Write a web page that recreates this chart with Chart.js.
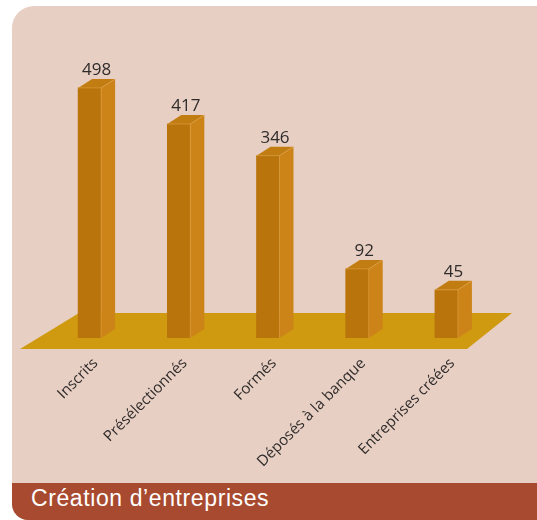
<!DOCTYPE html>
<html lang="fr">
<head>
<meta charset="utf-8">
<title>Création d’entreprises</title>
<script src="https://cdn.jsdelivr.net/npm/chart.js@4.4.1/dist/chart.umd.min.js"></script>
<style>
    html, body {
        margin: 0;
        padding: 0;
        background: #ffffff;
        width: 537px;
        height: 520px;
        overflow: hidden;
    }
    #panel {
        position: absolute;
        left: 12px;
        top: 6px;
        width: 525px;
        height: 514px;
        background: #e8cfc3;
        border-top-left-radius: 22px;
        border-bottom-left-radius: 16px;
        overflow: hidden;
    }
    #band {
        position: absolute;
        left: 0;
        top: 477px;
        width: 525px;
        height: 37px;
        background: #a84a2f;
        color: #ffffff;
        font-family: "Liberation Sans", Arial, sans-serif;
        font-size: 23px;
        letter-spacing: 0.6px;
        line-height: 31px;
        padding-left: 19px;
        box-sizing: border-box;
    }
    #chart {
        position: absolute;
        left: 0;
        top: 0;
    }
</style>
</head>
<body>
<div id="panel">
    <div id="band">Création d’entreprises</div>
</div>
<canvas id="chart" width="537" height="520"></canvas>

<script>
// Chart data
const categories = ['Inscrits', 'Présélectionnés', 'Formés', 'Déposés à la banque', 'Entreprises créées'];
const values = [498, 417, 346, 92, 45];

// Value axis range (the floor sits at the bottom of the range)
const axisMin = -63;
const axisMax = 500;

// Colours
const frontColor = '#b9740c';
const sideColor = '#cc8317';
const topColor = '#c27d12';
const floorColor = '#cf9a10';

// Depth of the 3D faces
const depthX = 14;
const depthY = -9;

// Floor under the bars
const floorPlugin = {
    id: 'floor',
    beforeDatasetsDraw(chart) {
        const { ctx, chartArea } = chart;
        const b = chartArea.bottom;
        ctx.save();
        ctx.fillStyle = floorColor;
        ctx.beginPath();
        ctx.moveTo(chartArea.left - 25, b + 11);
        ctx.lineTo(chartArea.left + 34, b - 25);
        ctx.lineTo(chartArea.right + 21, b - 25);
        ctx.lineTo(chartArea.right - 24, b + 11);
        ctx.closePath();
        ctx.fill();
        ctx.restore();
    }
};

// Side and top faces, value labels, category labels
const boxPlugin = {
    id: 'box3d',
    afterDatasetsDraw(chart) {
        const { ctx } = chart;
        const meta = chart.getDatasetMeta(0);
        ctx.save();
        meta.data.forEach((bar, i) => {
            const half = bar.width / 2;
            const l = bar.x - half;
            const r = bar.x + half;
            const t = bar.y;
            const base = bar.base;

            // right side
            ctx.fillStyle = sideColor;
            ctx.beginPath();
            ctx.moveTo(r, t);
            ctx.lineTo(r + depthX, t + depthY);
            ctx.lineTo(r + depthX, base + depthY);
            ctx.lineTo(r, base);
            ctx.closePath();
            ctx.fill();

            // top
            ctx.fillStyle = topColor;
            ctx.beginPath();
            ctx.moveTo(l, t);
            ctx.lineTo(r, t);
            ctx.lineTo(r + depthX, t + depthY);
            ctx.lineTo(l + depthX, t + depthY);
            ctx.closePath();
            ctx.fill();

            // soft highlight on the edges
            ctx.strokeStyle = 'rgba(236, 178, 90, 0.55)';
            ctx.lineWidth = 0.8;
            ctx.beginPath();
            ctx.moveTo(l, t);
            ctx.lineTo(r, t);
            ctx.lineTo(r, base);
            ctx.moveTo(r, t);
            ctx.lineTo(r + depthX, t + depthY);
            ctx.stroke();

            // value label
            ctx.fillStyle = '#2e2b2a';
            ctx.font = '17px "Open Sans", sans-serif';
            ctx.textAlign = 'center';
            ctx.textBaseline = 'alphabetic';
            ctx.fillText(String(values[i]), bar.x + depthX / 2, t + depthY - 4);
        });
        ctx.restore();
    },
    afterDraw(chart) {
        const { ctx, chartArea } = chart;
        const xScale = chart.scales.x;
        ctx.save();
        ctx.fillStyle = '#2e2b2a';
        ctx.font = '15px "Open Sans", sans-serif';
        ctx.textAlign = 'right';
        ctx.textBaseline = 'middle';
        categories.forEach((label, i) => {
            const x = xScale.getPixelForValue(i);
            ctx.save();
            ctx.translate(x + 6, chartArea.bottom + 23);
            ctx.rotate(-Math.PI / 4);
            ctx.fillText(label, 0, 0);
            ctx.restore();
        });
        ctx.restore();
    }
};

new Chart(document.getElementById('chart'), {
    type: 'bar',
    data: {
        labels: categories,
        datasets: [{
            data: values,
            backgroundColor: frontColor,
            borderWidth: 0,
            barThickness: 23,
            base: axisMin
        }]
    },
    options: {
        responsive: false,
        animation: false,
        devicePixelRatio: 1,
        layout: {
            padding: { left: 45, right: 46, top: 87, bottom: 182 }
        },
        scales: {
            x: { display: false },
            y: { display: false, min: axisMin, max: axisMax }
        },
        plugins: {
            legend: { display: false },
            tooltip: { enabled: false }
        }
    },
    plugins: [floorPlugin, boxPlugin]
});
</script>
</body>
</html>
